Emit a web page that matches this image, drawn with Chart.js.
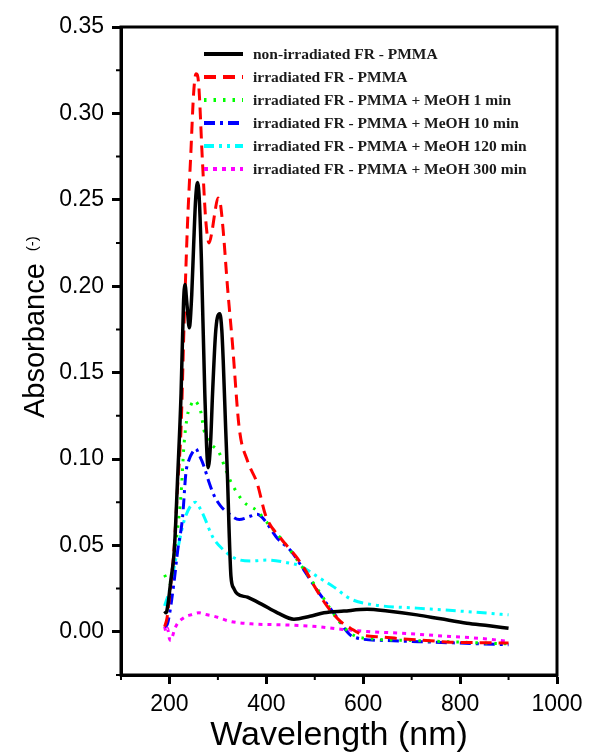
<!DOCTYPE html>
<html>
<head>
<meta charset="utf-8">
<script src="https://cdn.jsdelivr.net/npm/chart.js@4"></script>
<style>
  html, body { margin: 0; padding: 0; background: #fff; }
  #wrap { width: 591px; height: 755px; }
</style>
</head>
<body>
<div id="wrap"><canvas id="uv-chart"></canvas></div>
<script>
// series names (legend order)
const seriesLabels = [
  "non-irradiated FR - PMMA",
  "irradiated FR - PMMA",
  "irradiated FR - PMMA + MeOH 1 min",
  "irradiated FR - PMMA + MeOH 10 min",
  "irradiated FR - PMMA + MeOH 120 min",
  "irradiated FR - PMMA + MeOH 300 min",
];

// values (wavelength in nm, absorbance)
const nonIrrWl = [190, 193, 197, 203, 210, 217, 224, 229, 232, 236, 241, 246, 250, 254, 258, 262, 266, 273, 280, 285, 289, 295, 299, 304, 308, 311, 316, 320, 323, 327, 333, 340, 361, 390, 423, 457, 490, 519, 560, 608, 650, 711, 760, 814, 860, 900];
const nonIrrAbs = [0.012, 0.011, 0.016, 0.03, 0.047, 0.09, 0.138, 0.19, 0.201, 0.19, 0.176, 0.195, 0.224, 0.25, 0.26, 0.248, 0.215, 0.138, 0.095, 0.11, 0.138, 0.172, 0.182, 0.184, 0.175, 0.157, 0.118, 0.088, 0.06, 0.032, 0.025, 0.022, 0.02, 0.016, 0.011, 0.0073, 0.009, 0.011, 0.012, 0.013, 0.012, 0.0098, 0.0075, 0.005, 0.0035, 0.002];

const irrWl = [190, 195, 200, 210, 217, 224, 230, 237, 244, 250, 255, 260, 268, 275, 282, 288, 294, 300, 305, 311, 320, 330, 344, 361, 381, 399, 430, 460, 480, 500, 525, 553, 580, 601, 640, 676, 730, 780, 840, 900];
const irrAbs = [0.003, 0.008, 0.02, 0.05, 0.085, 0.118, 0.176, 0.234, 0.276, 0.312, 0.323, 0.318, 0.273, 0.238, 0.225, 0.232, 0.243, 0.251, 0.248, 0.232, 0.199, 0.167, 0.118, 0.099, 0.086, 0.067, 0.054, 0.044, 0.036, 0.026, 0.015, 0.006, 0.001, -0.002, -0.003, -0.004, -0.005, -0.006, -0.0063, -0.0065];

const meoh1Wl = [190, 195, 200, 205, 210, 217, 224, 230, 237, 244, 251, 258, 265, 271, 285, 302, 316, 330, 354, 381, 405, 436, 460, 505, 553, 580, 615, 700, 800, 900];
const meoh1Abs = [0.033, 0.03, 0.028, 0.033, 0.045, 0.06, 0.08, 0.108, 0.125, 0.131, 0.134, 0.132, 0.127, 0.117, 0.109, 0.104, 0.094, 0.085, 0.075, 0.07, 0.062, 0.052, 0.043, 0.025, 0.005, -0.002, -0.004, -0.005, -0.006, -0.007];

const meoh10Wl = [190, 195, 200, 210, 217, 227, 234, 241, 248, 254, 262, 271, 280, 292, 305, 320, 344, 368, 381, 392, 423, 450, 477, 505, 539, 580, 642, 745, 900];
const meoh10Abs = [0.003, 0.004, 0.01, 0.03, 0.047, 0.066, 0.092, 0.1, 0.104, 0.106, 0.102, 0.096, 0.088, 0.079, 0.073, 0.069, 0.065, 0.067, 0.068, 0.066, 0.054, 0.047, 0.036, 0.024, 0.011, -0.003, -0.005, -0.006, -0.0075];

const meoh120Wl = [190, 200, 213, 230, 244, 254, 262, 271, 289, 313, 340, 370, 402, 443, 471, 505, 539, 574, 622, 711, 814, 900];
const meoh120Abs = [0.015, 0.024, 0.042, 0.064, 0.073, 0.075, 0.072, 0.067, 0.055, 0.047, 0.042, 0.041, 0.0415, 0.04, 0.038, 0.032, 0.026, 0.019, 0.0156, 0.0137, 0.0117, 0.0098];

const meoh300Wl = [190, 193, 196, 200, 203, 207, 210, 217, 224, 235, 244, 261, 275, 292, 326, 368, 436, 505, 553, 608, 676, 780, 850, 900];
const meoh300Abs = [0.003, 0.0, 0.002, -0.004, -0.005, -0.002, 0.001, 0.005, 0.007, 0.009, 0.0098, 0.011, 0.01, 0.009, 0.006, 0.0046, 0.004, 0.003, 0.0015, 0.0002, -0.0008, -0.0027, -0.004, -0.0055];

// axis ticks
const xTicks = [200, 400, 600, 800, 1000];
const xMinorTicks = [100, 300, 500, 700, 900];
const yTicks = [0, 0.05, 0.1, 0.15, 0.2, 0.25, 0.3, 0.35];
const yMinorTicks = [-0.025, 0.025, 0.075, 0.125, 0.175, 0.225, 0.275, 0.325];

const pts = (wl, ab) => wl.map((w, i) => ({ x: w, y: ab[i] }));

function line(label, wl, ab, color, dash, width) {
  return {
    label: label,
    data: pts(wl, ab),
    borderColor: color,
    backgroundColor: color,
    borderWidth: width,
    borderDash: dash,
    pointRadius: 0,
    cubicInterpolationMode: "monotone",
    fill: false,
  };
}

// frame, minor ticks, legend and axis titles
const extras = {
  id: "extras",
  afterDraw(chart) {
    const ctx = chart.ctx;
    const a = chart.chartArea;
    const xs = chart.scales.x;
    const ys = chart.scales.y;
    ctx.save();
    ctx.strokeStyle = "#000";
    ctx.lineWidth = 3;
    ctx.setLineDash([]);
    ctx.strokeRect(a.left, a.top, a.right - a.left, a.bottom - a.top);

    ctx.lineWidth = 2;
    ctx.beginPath();
    xMinorTicks.forEach(v => {
      const px = xs.getPixelForValue(v);
      ctx.moveTo(px, a.bottom);
      ctx.lineTo(px, a.bottom + 5);
    });
    yMinorTicks.forEach(v => {
      const py = ys.getPixelForValue(v);
      ctx.moveTo(a.left, py);
      ctx.lineTo(a.left - 5, py);
    });
    ctx.stroke();

    // legend
    ctx.font = "bold 15.5px 'Liberation Serif', 'Times New Roman', serif";
    ctx.textBaseline = "middle";
    ctx.textAlign = "left";
    chart.data.datasets.forEach((ds, i) => {
      const y = 54 + i * 23;
      ctx.strokeStyle = ds.borderColor;
      ctx.lineWidth = 4;
      ctx.setLineDash(ds.borderDash);
      ctx.beginPath();
      ctx.moveTo(204, y);
      ctx.lineTo(243, y);
      ctx.stroke();
      ctx.fillStyle = "#1a1a1a";
      ctx.fillText(ds.label, 253, y + 1);
    });
    ctx.setLineDash([]);

    // x title
    ctx.fillStyle = "#000";
    ctx.textAlign = "center";
    ctx.textBaseline = "alphabetic";
    ctx.font = "34px 'Liberation Sans', Arial, sans-serif";
    ctx.fillText("Wavelength (nm)", 339, 745);

    // y title
    ctx.translate(44, 418);
    ctx.rotate(-Math.PI / 2);
    ctx.textAlign = "left";
    ctx.font = "29px 'Liberation Sans', Arial, sans-serif";
    ctx.fillText("Absorbance", 0, 0);
    const w = ctx.measureText("Absorbance").width;
    ctx.font = "15px 'Liberation Sans', Arial, sans-serif";
    ctx.fillText("(-)", w + 12, -7);
    ctx.restore();
  },
};

const tickFont = { family: "'Liberation Sans', Arial, sans-serif", size: 23 };

new Chart(document.getElementById("uv-chart"), {
  type: "line",
  data: {
    datasets: [
      line(seriesLabels[0], nonIrrWl, nonIrrAbs, "#000000", [], 3.5),
      line(seriesLabels[1], irrWl, irrAbs, "#ff0000", [12, 7], 3),
      line(seriesLabels[2], meoh1Wl, meoh1Abs, "#00ff00", [2.5, 7], 3),
      line(seriesLabels[3], meoh10Wl, meoh10Abs, "#0000ff", [11, 5, 3, 5], 3),
      line(seriesLabels[4], meoh120Wl, meoh120Abs, "#00ffff", [10, 5, 3, 5, 3, 5], 3),
      line(seriesLabels[5], meoh300Wl, meoh300Abs, "#ff00ff", [4, 5], 3),
    ],
  },
  options: {
    responsive: true,
    maintainAspectRatio: false,
    animation: false,
    layout: { padding: { top: 27, right: 34, left: 0, bottom: 0 } },
    plugins: {
      legend: { display: false },
      tooltip: { enabled: false },
    },
    scales: {
      x: {
        type: "linear",
        min: 100,
        max: 1000,
        afterBuildTicks: s => { s.ticks = xTicks.map(v => ({ value: v })); },
        afterFit: s => { s.height = 80; },
        ticks: { color: "#000", font: tickFont, padding: 7, maxRotation: 0, callback: v => String(v) },
        grid: { drawOnChartArea: false, tickLength: 9, tickWidth: 3, tickColor: "#000" },
        border: { display: true, width: 3, color: "#000" },
      },
      y: {
        type: "linear",
        min: -0.025,
        max: 0.35,
        afterBuildTicks: s => { s.ticks = yTicks.map(v => ({ value: v })); },
        afterFit: s => { s.width = 121; },
        ticks: { color: "#000", font: tickFont, padding: 8, callback: v => v.toFixed(2) },
        grid: { drawOnChartArea: false, tickLength: 9, tickWidth: 3, tickColor: "#000" },
        border: { display: true, width: 3, color: "#000" },
      },
    },
  },
  plugins: [extras],
});
</script>
</body>
</html>
